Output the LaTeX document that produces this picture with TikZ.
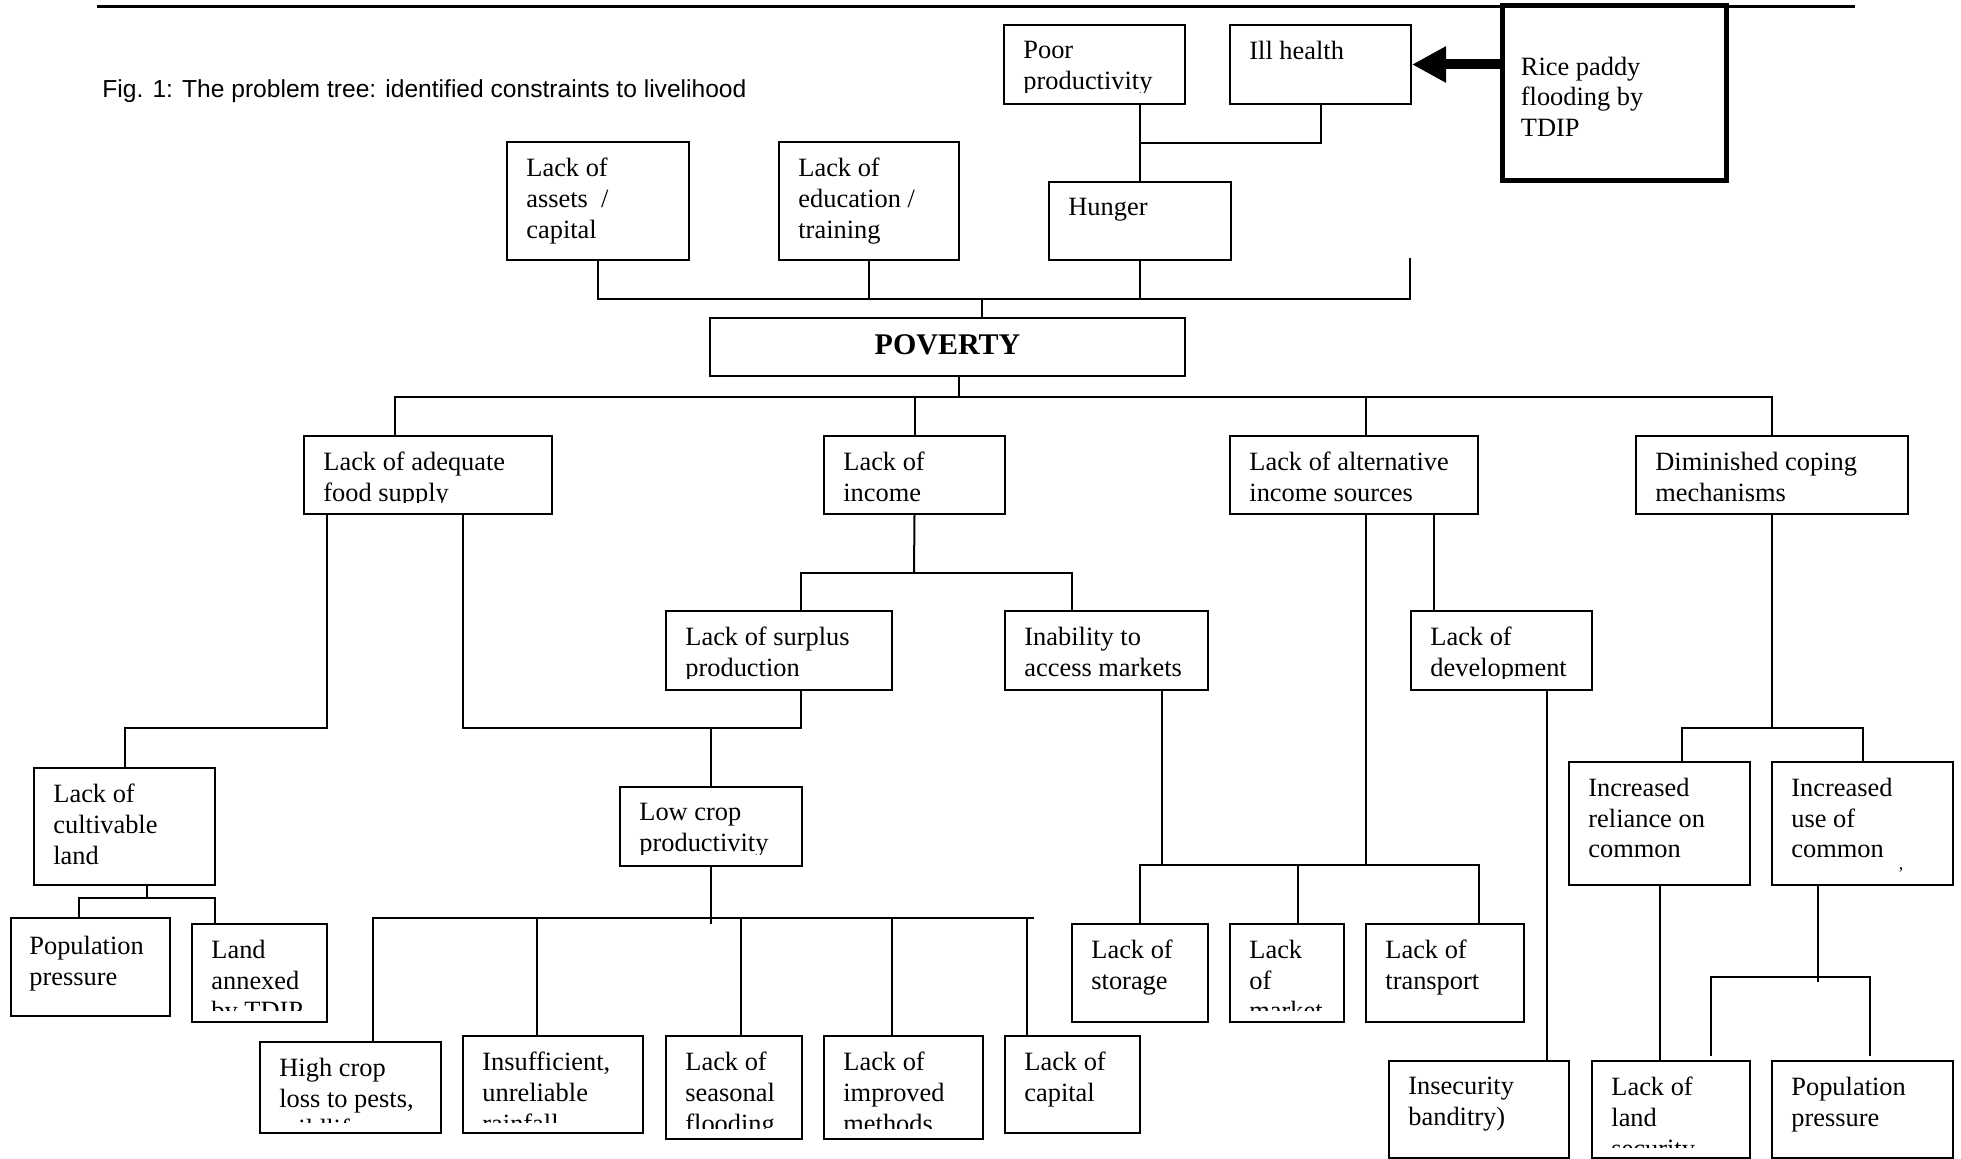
\documentclass[tikz,border=0pt]{standalone}
\usepackage{fontspec}
\setmainfont{Liberation Serif}
\newfontfamily\captionfont{Liberation Sans}
\usepackage{tikz}
\usetikzlibrary{positioning, fit, calc, arrows.meta}
\newcommand{\boxfont}{\fontsize{13.2}{15.3}\selectfont}
\tikzset{
    x=0.5pt, y=-0.5pt, % one unit per pixel of the page, y runs down
    pbox/.style={ % frame of a cause
        draw,
        line width=1pt,
        inner sep=0pt
    },
    ptext/.style={ % text in the top left corner of a frame
        anchor=north west,
        inner sep=0pt,
        align=left,
        font=\boxfont
    },
    link/.style={draw, line width=1pt}, % tree lines
    fat arrow/.style={line width=5pt, -{Triangle[length=17pt, width=17pt]}},
}
% frame with its text, cut off a little above the bottom edge
\newcommand{\causebox}[4][20,17]{%
    \node[pbox, fit={#3}] (#2) {};
    \begin{scope}
        \clip ([yshift=6pt]#2.south west) rectangle (#2.north east);
        \node[ptext] (#2-t) at ([shift={(#1)}]#2.north west) {#4};
    \end{scope}%
}

\begin{document}
\begin{tikzpicture}
    \useasboundingbox (0,0) rectangle (1961,1159);
    \draw[line width=1.5pt] (97,7) -- (1855,7);
    \node[anchor=base west, inner sep=0pt, font=\captionfont\fontsize{12.3}{14}\selectfont]
        (caption) at (102,98) {Fig. 1: The problem tree: identified constraints to livelihood};

    % top row
    \causebox{assets}{(507,142) (689,260)}{Lack of\\assets~~/\\capital}
    \causebox{educ}{(779,142) (959,260)}{Lack of\\education /\\training}
    \causebox{poorprod}{(1004,25) (1185,104)}{Poor\\productivity}
    \causebox{illhealth}{(1230,25) (1411,104)}{Ill health}
    \causebox{hunger}{(1049,182) (1231,260)}{Hunger}
    \node[pbox, line width=2.5pt, fit={(1502,6) (1726,181)}] (rice) {};
    \node[ptext] (rice-t) at ([shift={(21,53)}]rice.north west) {Rice paddy\\flooding by\\TDIP};
    \node[pbox, fit={(710,318) (1185,376)}] (poverty) {};
    \node[anchor=base, inner sep=0pt, font=\bfseries\fontsize{15}{15}\selectfont]
        (poverty-t) at ([shift={(0,8)}]poverty.center) {POVERTY};

    % second row
    \causebox{food}{(304,436) (552,514)}{Lack of adequate\\food supply}
    \causebox{income}{(824,436) (1005,514)}{Lack of\\income}
    \causebox{altinc}{(1230,436) (1478,514)}{Lack of alternative\\income sources}
    \causebox{coping}{(1636,436) (1908,514)}{Diminished coping\\mechanisms}

    % third row
    \causebox{surplus}{(666,611) (892,690)}{Lack of surplus\\production}
    \causebox{markets}{(1005,611) (1208,690)}{Inability to\\access markets}
    \causebox{develop}{(1411,611) (1592,690)}{Lack of\\development}
    \causebox{cultland}{(34,768) (215,885)}{Lack of\\cultivable\\land}
    \causebox{lowcrop}{(620,787) (802,866)}{Low crop\\productivity}
    \causebox{reliance}{(1569,762) (1750,885)}{Increased\\reliance on\\common}
    \causebox{usecommon}{(1772,762) (1953,885)}{Increased\\use of\\common}
    \node[inner sep=0pt, font=\fontsize{9}{9}\selectfont] (mark) at (1901,870) {,};

    % bottom rows
    \causebox[19,19]{poppress}{(11,918) (170,1016)}{Population\\pressure}
    \causebox{annexed}{(192,924) (327,1022)}{Land\\annexed\\by TDIP}
    \causebox{pests}{(260,1042) (441,1133)}{High crop\\loss to pests,\\wildlife}
    \causebox{rainfall}{(463,1036) (643,1133)}{Insufficient,\\unreliable\\rainfall}
    \causebox{seasonal}{(666,1036) (802,1139)}{Lack of\\seasonal\\flooding}
    \causebox{methods}{(824,1036) (983,1139)}{Lack of\\improved\\methods}
    \causebox{capital}{(1005,1036) (1140,1133)}{Lack of\\capital}
    \causebox{storage}{(1072,924) (1208,1022)}{Lack of\\storage}
    \causebox{market}{(1230,924) (1344,1022)}{Lack\\of\\market}
    \causebox{transport}{(1366,924) (1524,1022)}{Lack of\\transport}
    \causebox{insecurity}{(1389,1061) (1569,1158)}{Insecurity\\banditry)}
    \causebox{landsec}{(1592,1061) (1750,1158)}{Lack of\\land\\security}
    \causebox{poppressb}{(1772,1061) (1953,1158)}{Population\\pressure}

    % junctions
    \coordinate (hj) at (1140,143);
    \coordinate (tb) at (1410,299);
    \coordinate (tbend) at (1410,258);
    \coordinate (pu) at (982,299);
    \coordinate (l2) at (395,397);
    \coordinate (pd) at (959,397);
    \coordinate (aj) at (1366,397);
    \coordinate (fl) at (327,728);
    \coordinate (fr) at (463,728);
    \coordinate (sj) at (801,728);
    \coordinate (ij) at (914,573);
    \coordinate (ia) at (801,573);
    \coordinate (ib) at (1072,573);
    \coordinate (mk) at (1162,865);
    \coordinate (mb) at (1298,865);
    \coordinate (mt) at (1479,865);
    \coordinate (dj) at (1434,514);
    \coordinate (dv) at (1547,690);
    \coordinate (lc) at (711,924);
    \coordinate (la) at (373,918);
    \coordinate (lb) at (537,918);
    \coordinate (lcx) at (741,918);
    \coordinate (ld) at (892,918);
    \coordinate (le) at (1027,918);
    \coordinate (lz) at (1034,918);
    \coordinate (ca) at (147,898);
    \coordinate (cl) at (79,898);
    \coordinate (cr) at (215,898);
    \coordinate (cm) at (1772,728);
    \coordinate (ra) at (1682,728);
    \coordinate (rb) at (1863,728);
    \coordinate (ua) at (1818,982);
    \coordinate (ub) at (1711,977);
    \coordinate (uc) at (1870,977);
    \coordinate (ubd) at (1711,1056);
    \coordinate (ucd) at (1870,1056);

    % top of the tree
    \draw[link] (hunger.north) -- (hunger.north |- poorprod.south);
    \draw[link] (illhealth.south) |- (hj);
    \draw[link] (assets.south) |- (tb) -- (tbend);
    \draw[link] (educ.south) -- (educ.south |- tb);
    \draw[link] (hunger.south) -- (hunger.south |- tb);
    \draw[link] (pu) -- (pu |- poverty.north);
    \draw[fat arrow] (rice.west |- illhealth.east) -- (illhealth.east);

    % under poverty
    \draw[link] (pd |- poverty.south) -- (pd);
    \draw[link] (l2 |- food.north) -- (l2) -- (coping.north |- l2) -- (coping.north);
    \draw[link] (income.north) -- (income.north |- l2);
    \draw[link] (aj) -- (aj |- altinc.north);

    % food supply
    \draw[link] (fl |- food.south) -- (fl) -| (cultland.north);
    \draw[link] (fr |- food.south) -- (fr) -- (sj) -- (sj |- surplus.south);
    \draw[link] (lowcrop.north) -- (lowcrop.north |- sj);
    \draw[link] (ca |- cultland.south) -- (ca);
    \draw[link] (cl |- poppress.north) -- (cl) -- (cr) -- (cr |- annexed.north);

    % income
    \draw[link] (income.south) -- (ij);
    \draw[link] (ia |- surplus.north) -- (ia) -- (ib) -- (ib |- markets.north);
    \draw[link] (lowcrop.south) -- (lc);
    \draw[link] (la |- pests.north) -- (la) -- (lz);
    \draw[link] (lb) -- (lb |- rainfall.north);
    \draw[link] (lcx) -- (lcx |- seasonal.north);
    \draw[link] (ld) -- (ld |- methods.north);
    \draw[link] (le) -- (le |- capital.north);

    % markets and other income
    \draw[link] (mk |- markets.south) -- (mk);
    \draw[link] (storage.north) |- (mt) -- (mt |- transport.north);
    \draw[link] (mb) -- (mb |- market.north);
    \draw[link] (aj |- altinc.south) -- (aj |- mk);
    \draw[link] (dj) -- (dj |- develop.north);
    \draw[link] (dv) -- (dv |- insecurity.north);

    % coping
    \draw[link] (coping.south) -- (cm);
    \draw[link] (ra |- reliance.north) -- (ra) -- (rb) -- (rb |- usecommon.north);
    \draw[link] (reliance.south) -- (reliance.south |- landsec.north);
    \draw[link] (ua |- usecommon.south) -- (ua);
    \draw[link] (ubd) -- (ub) -- (uc) -- (ucd);
\end{tikzpicture}
\end{document}
